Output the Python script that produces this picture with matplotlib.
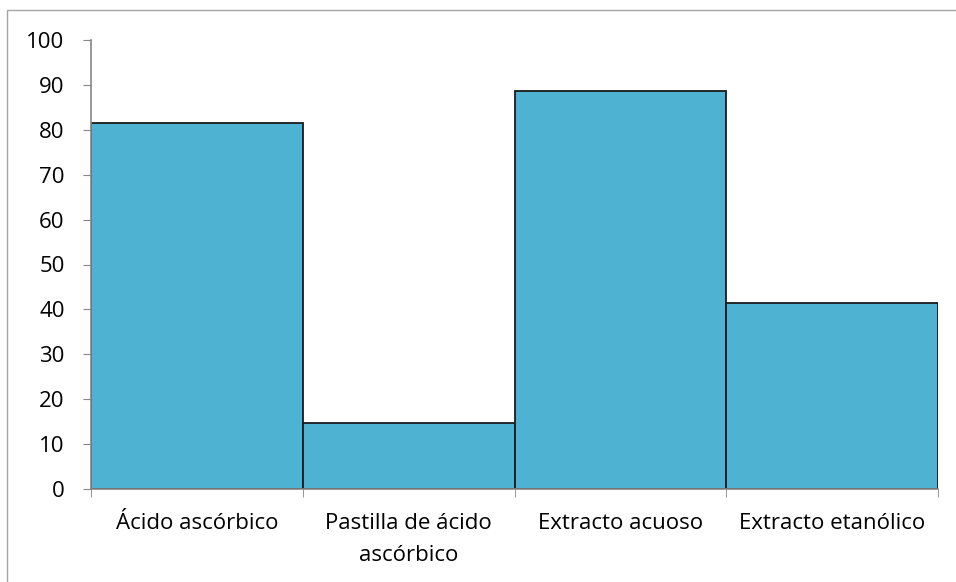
import matplotlib.pyplot as plt
from matplotlib.patches import Rectangle
import numpy as np

categories = ['Ácido ascórbico', 'Pastilla de ácido\nascórbico', 'Extracto acuoso', 'Extracto etanólico']
values = [81.5, 14.8, 88.7, 41.5]
yticks = [0, 10, 20, 30, 40, 50, 60, 70, 80, 90, 100]

plt.rcParams['font.family'] = ['Open Sans', 'DejaVu Sans']

fig = plt.figure(figsize=(9.56, 5.82), dpi=100)
ax = fig.add_axes([91/956, 1 - 489/582, (938 - 91)/956, (489 - 40)/582])

x = np.arange(len(categories))
ax.bar(x, values, width=1.0, color='#4EB3D3', edgecolor='#1a1a1a', linewidth=1.3, zorder=2)

ax.set_xlim(-0.5, len(categories) - 0.5)
ax.set_ylim(0, 100)
ax.set_yticks(yticks)
ax.set_yticklabels([str(v) for v in yticks], fontsize=16)

ax.set_xticks(x)
ax.set_xticklabels(categories, fontsize=16, linespacing=1.7)
ax.set_xticks(np.arange(len(categories) + 1) - 0.5, minor=True)
ax.tick_params(axis='x', which='major', length=0, pad=17)
ax.tick_params(axis='x', which='minor', length=6, color='#868686', direction='out')
ax.tick_params(axis='y', length=6, color='#868686', direction='out', pad=13)

for s in ['top', 'right']:
    ax.spines[s].set_visible(False)
for s in ['left', 'bottom']:
    ax.spines[s].set_color('#868686')
    ax.spines[s].set_linewidth(1.2)

# outer chart border (only top/left visible in the crop)
fig.patches.append(Rectangle((7/956, -0.1), 1.2, 1 - 10/582 + 0.1, transform=fig.transFigure,
                             fill=False, edgecolor='#a6a6a6', linewidth=1.0))

fig.savefig('out.png', dpi=100)
